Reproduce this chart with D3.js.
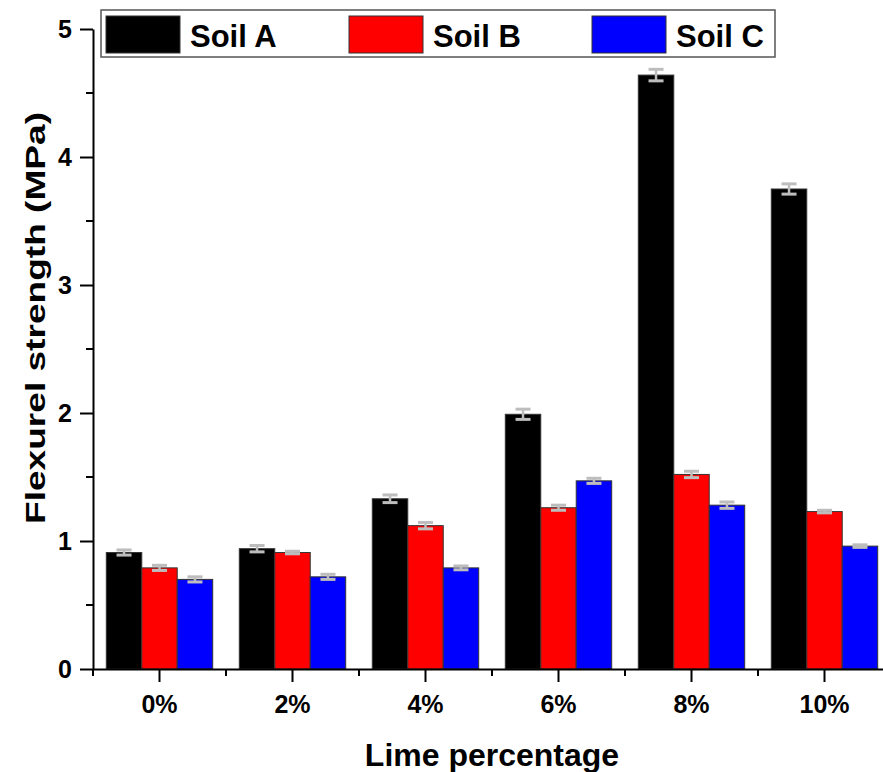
<!DOCTYPE html>
<html lang="en">
<head>
    <meta charset="UTF-8">
    <title>Flexurel strength by lime percentage</title>
    <script src="https://d3js.org/d3.v7.min.js"></script>
    <style>
        body { margin: 0; background: #fff; }
        svg text { font-family: Arial, "Liberation Sans", sans-serif; font-weight: bold; fill: #000; }
    </style>
</head>
<body>
    <div id="chart"></div>
    <script>
        // Data
        const categories = ["0%", "2%", "4%", "6%", "8%", "10%"];
        const seriesNames = ["Soil A", "Soil B", "Soil C"];
        const seriesColors = ["#000000", "#ff0000", "#0000ff"];
        const soilA = [0.91, 0.94, 1.33, 1.99, 4.64, 3.75];
        const soilB = [0.79, 0.91, 1.12, 1.26, 1.52, 1.23];
        const soilC = [0.70, 0.72, 0.79, 1.47, 1.28, 0.96];
        const errA = [0.02, 0.025, 0.03, 0.04, 0.045, 0.04];
        const errB = [0.02, 0.01, 0.025, 0.02, 0.025, 0.01];
        const errC = [0.02, 0.02, 0.015, 0.02, 0.025, 0.01];
        const yTicks = [0, 1, 2, 3, 4, 5];
        const yMinorTicks = [0.5, 1.5, 2.5, 3.5, 4.5];

        const values = [soilA, soilB, soilC];
        const errors = [errA, errB, errC];

        const W = 883, H = 772;
        const x0 = 93, x1 = 891, yBottom = 669, yTop = 29;

        const svg = d3.select("#chart").append("svg")
            .attr("width", W)
            .attr("height", H);

        // Scales
        const x = d3.scaleBand()
            .domain(categories)
            .range([x0, x1])
            .paddingInner(0.2)
            .paddingOuter(0.1);

        const xSub = d3.scaleBand()
            .domain(seriesNames)
            .range([0, x.bandwidth()]);

        const y = d3.scaleLinear()
            .domain([0, 5])
            .range([yBottom, yTop]);

        // Bars
        const groups = svg.append("g").selectAll("g")
            .data(categories)
            .join("g")
            .attr("transform", d => `translate(${x(d)},0)`);

        groups.selectAll("rect")
            .data((c, i) => seriesNames.map((s, j) => ({ s, j, v: values[j][i], e: errors[j][i] })))
            .join("rect")
            .attr("x", d => xSub(d.s))
            .attr("width", xSub.bandwidth())
            .attr("y", d => y(d.v))
            .attr("height", d => y(0) - y(d.v))
            .attr("fill", d => seriesColors[d.j])
            .attr("stroke", "#333")
            .attr("stroke-width", 1);

        // Error bars
        const capW = 15;
        const eb = groups.selectAll("g.err")
            .data((c, i) => seriesNames.map((s, j) => ({ s, j, v: values[j][i], e: errors[j][i] })))
            .join("g")
            .attr("class", "err")
            .attr("stroke", "#bdbdbd");

        eb.append("line")
            .attr("x1", d => xSub(d.s) + xSub.bandwidth() / 2)
            .attr("x2", d => xSub(d.s) + xSub.bandwidth() / 2)
            .attr("y1", d => y(d.v + d.e))
            .attr("y2", d => y(d.v - d.e))
            .attr("stroke-width", 2.5);

        eb.selectAll("line.cap")
            .data(d => [d.v + d.e, d.v - d.e].map(val => ({ cx: xSub(d.s) + xSub.bandwidth() / 2, val })))
            .join("line")
            .attr("class", "cap")
            .attr("x1", d => d.cx - capW / 2)
            .attr("x2", d => d.cx + capW / 2)
            .attr("y1", d => y(d.val))
            .attr("y2", d => y(d.val))
            .attr("stroke-width", 3);

        // Y axis
        const yAxis = svg.append("g")
            .attr("transform", `translate(${x0},0)`)
            .call(d3.axisLeft(y).tickValues(yTicks).tickFormat(d3.format("d"))
                .tickSize(13).tickPadding(8).tickSizeOuter(0));
        yAxis.select(".domain").attr("stroke-width", 2);
        yAxis.selectAll(".tick line").attr("stroke-width", 2);
        yAxis.selectAll(".tick text").style("font-size", "25px");

        yAxis.selectAll(".minor")
            .data(yMinorTicks)
            .join("line")
            .attr("class", "minor")
            .attr("x1", -7).attr("x2", 0)
            .attr("y1", d => y(d)).attr("y2", d => y(d))
            .attr("stroke", "#000").attr("stroke-width", 2);

        // X axis
        const xAxis = svg.append("g")
            .attr("transform", `translate(0,${yBottom})`)
            .call(d3.axisBottom(x).tickSize(13).tickPadding(13).tickSizeOuter(0));
        xAxis.select(".domain").attr("stroke-width", 2);
        xAxis.selectAll(".tick line").attr("stroke-width", 2);
        xAxis.selectAll(".tick text").style("font-size", "25px");

        const bounds = categories.map((c, i) => x(c) - x.step() * x.paddingOuter());
        xAxis.selectAll(".minor")
            .data(bounds)
            .join("line")
            .attr("class", "minor")
            .attr("x1", d => d).attr("x2", d => d)
            .attr("y1", 0).attr("y2", 7)
            .attr("stroke", "#000").attr("stroke-width", 2);

        // Axis titles
        svg.append("text")
            .attr("x", 492)
            .attr("y", 766)
            .attr("text-anchor", "middle")
            .style("font-size", "32px")
            .text("Lime percentage");

        svg.append("text")
            .attr("transform", "translate(45,318) rotate(-90)")
            .attr("text-anchor", "middle")
            .attr("textLength", 412)
            .attr("lengthAdjust", "spacingAndGlyphs")
            .style("font-size", "28px")
            .text("Flexurel strength (MPa)");

        // Legend
        const legend = svg.append("g");
        legend.append("rect")
            .attr("x", 101).attr("y", 10)
            .attr("width", 674).attr("height", 47)
            .attr("fill", "#fff")
            .attr("stroke", "#555")
            .attr("stroke-width", 1.5);

        const items = legend.selectAll("g.item")
            .data(seriesNames)
            .join("g")
            .attr("class", "item")
            .attr("transform", (d, i) => `translate(${106 + i * 243},16)`);

        items.append("rect")
            .attr("width", 74).attr("height", 37)
            .attr("fill", (d, i) => seriesColors[i])
            .attr("stroke", "#333").attr("stroke-width", 1);

        items.append("text")
            .attr("x", 84).attr("y", 31)
            .style("font-size", "31px")
            .text(d => d);
    </script>
</body>
</html>
